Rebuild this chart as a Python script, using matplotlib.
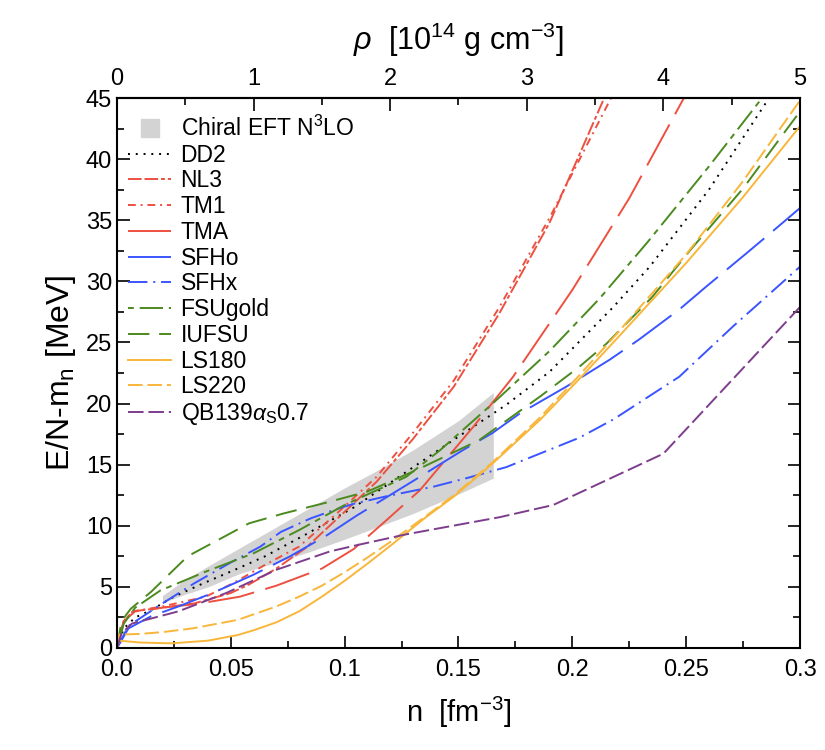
import matplotlib
matplotlib.use('Agg')
from matplotlib import pyplot as plt
from matplotlib.lines import Line2D
from matplotlib.ticker import MultipleLocator, FixedLocator, FixedFormatter

plt.rcParams['font.family'] = ['Liberation Sans', 'DejaVu Sans']
plt.rcParams['mathtext.fontset'] = 'custom'
plt.rcParams['mathtext.rm'] = 'Liberation Sans'
plt.rcParams['mathtext.it'] = 'Liberation Sans:italic'

# chiral EFT band
band_n = [0.02, 0.03, 0.04, 0.054, 0.07, 0.085, 0.1, 0.113, 0.13, 0.15, 0.1653]
band_lo = [3.7, 4.4, 5.0, 6.1, 7.0, 7.9, 8.9, 9.8, 11.0, 12.6, 13.9]
band_hi = [4.3, 5.6, 6.7, 8.2, 9.9, 11.5, 13.1, 14.4, 16.2, 18.6, 20.9]

dd2_n = [0, 0.003, 0.008, 0.015, 0.025, 0.038, 0.053, 0.065, 0.083, 0.104, 0.127, 0.15, 0.171, 0.19, 0.218, 0.234, 0.26, 0.285, 0.292]
dd2_e = [0, 1.6, 2.5, 3.1, 4.2, 5.3, 6.5, 7.5, 9.3, 11.5, 14.4, 17.3, 19.9, 22.6, 27.9, 31.2, 37.5, 44.6, 46.5]

nl3_n = [0, 0.003, 0.007, 0.02, 0.034, 0.05, 0.058, 0.07, 0.083, 0.098, 0.114, 0.13, 0.148, 0.168, 0.19, 0.214, 0.22]
nl3_e = [0, 2.2, 3.0, 3.3, 3.65, 4.5, 5.2, 6.5, 8.2, 10.8, 13.6, 17.1, 21.4, 27.4, 34.8, 45.0, 47.6]

tm1_n = [0, 0.003, 0.007, 0.02, 0.039, 0.051, 0.065, 0.08, 0.0965, 0.114, 0.13, 0.148, 0.168, 0.19, 0.217, 0.222]
tm1_e = [0, 2.2, 3.0, 3.4, 4.2, 5.3, 6.8, 8.3, 11.0, 14.0, 17.6, 21.9, 27.9, 35.2, 45.0, 46.9]

tma_n = [0, 0.003, 0.008, 0.02, 0.035, 0.054, 0.07, 0.09, 0.104, 0.118, 0.133, 0.1565, 0.174, 0.2, 0.225, 0.249, 0.255]
tma_e = [0, 2.2, 3.0, 3.3, 3.6, 4.2, 5.1, 6.5, 8.1, 10.4, 12.9, 18.1, 22.2, 29.3, 36.8, 45.0, 47.2]

sfho_n = [0, 0.005, 0.015, 0.027, 0.042, 0.06, 0.076, 0.092, 0.105, 0.133, 0.152, 0.165, 0.177, 0.1975, 0.2165, 0.229, 0.247, 0.259, 0.2765, 0.288, 0.3]
sfho_e = [0, 1.6, 2.6, 3.4, 4.5, 6.0, 7.5, 9.2, 10.8, 14.0, 16.2, 17.6, 19.2, 21.4, 23.6, 25.2, 27.7, 29.6, 32.3, 34.1, 36.0]

sfhx_n = [0, 0.005, 0.02, 0.034, 0.05, 0.063, 0.072, 0.085, 0.097, 0.104, 0.118, 0.139, 0.1536, 0.171, 0.187, 0.203, 0.218, 0.247, 0.2705, 0.3]
sfhx_e = [0, 1.8, 3.65, 5.3, 7.0, 8.3, 9.5, 10.6, 11.4, 11.8, 12.4, 13.2, 13.9, 14.8, 16.0, 17.2, 18.7, 22.2, 26.3, 31.2]

fsu_n = [0, 0.003, 0.008, 0.019, 0.039, 0.06, 0.08, 0.1, 0.111, 0.127, 0.142, 0.165, 0.19, 0.212, 0.233, 0.26, 0.29]
fsu_e = [0, 2.0, 3.3, 4.7, 6.25, 7.75, 9.65, 11.7, 12.65, 14.0, 16.2, 20.0, 24.3, 28.6, 33.2, 39.4, 46.6]

iufsu_n = [0, 0.002, 0.006, 0.015, 0.031, 0.044, 0.058, 0.073, 0.092, 0.11, 0.132, 0.159, 0.186, 0.203, 0.215, 0.235, 0.252, 0.275, 0.294, 0.3]
iufsu_e = [0, 2.2, 3.2, 4.6, 7.5, 8.8, 10.2, 11.0, 11.9, 12.8, 14.6, 17.0, 20.6, 23.0, 24.9, 28.7, 32.6, 37.6, 42.4, 43.9]

ls180_n = [0, 0.001, 0.01, 0.024, 0.04, 0.053, 0.06, 0.07, 0.08, 0.09, 0.1, 0.11, 0.121, 0.135, 0.148, 0.165, 0.186, 0.203, 0.219, 0.25, 0.275, 0.3]
ls180_e = [0, 0.6, 0.45, 0.38, 0.6, 1.06, 1.45, 2.1, 3.0, 4.2, 5.5, 6.9, 8.5, 10.6, 12.4, 15.1, 18.7, 22.0, 25.2, 31.5, 36.9, 42.7]

ls220_n = [0, 0.001, 0.01, 0.02, 0.033, 0.053, 0.07, 0.08, 0.09, 0.1, 0.11, 0.121, 0.135, 0.148, 0.165, 0.186, 0.203, 0.219, 0.25, 0.275, 0.3]
ls220_e = [0, 1.1, 1.15, 1.3, 1.6, 2.3, 3.4, 4.2, 5.1, 6.2, 7.4, 8.8, 10.7, 12.5, 15.2, 18.9, 22.3, 25.6, 32.2, 38.2, 44.8]

qb_n = [0, 0.002, 0.0066, 0.027, 0.048, 0.07, 0.0935, 0.105, 0.127, 0.168, 0.1916, 0.24, 0.3]
qb_e = [0, 1.2, 2.0, 3.0, 4.5, 6.4, 7.9, 8.4, 9.3, 10.7, 11.7, 15.9, 27.9]

xtick_vals = [0, 0.05, 0.1, 0.15, 0.2, 0.25, 0.3]
xtick_text = ['0.0', '0.05', '0.1', '0.15', '0.2', '0.25', '0.3']
rho_ticks = [0, 1, 2, 3, 4, 5]
rho_minor = [0.5, 1.5, 2.5, 3.5, 4.5]

red = '#ee5040'
blue = '#3a55ff'
green = '#4b8a1e'
orange = '#f8b63a'
purple = '#7d3d8d'

curves = [
    (dd2_n, dd2_e, 'DD2', 'black', (0, (1, 3))),
    (nl3_n, nl3_e, 'NL3', red, (0, (7, 1.5, 7, 1.5, 2, 1.5))),
    (tm1_n, tm1_e, 'TM1', red, (0, (4, 2.5, 1, 2.5))),
    (tma_n, tma_e, 'TMA', red, (0, (24, 6))),
    (sfho_n, sfho_e, 'SFHo', blue, (0, (25, 6))),
    (sfhx_n, sfhx_e, 'SFHx', blue, (0, (10, 3, 1, 3))),
    (fsu_n, fsu_e, 'FSUgold', green, (0, (3, 3, 12, 3))),
    (iufsu_n, iufsu_e, 'IUFSU', green, (0, (11, 5))),
    (ls180_n, ls180_e, 'LS180', orange, '-'),
    (ls220_n, ls220_e, 'LS220', orange, (0, (7.5, 2.5))),
    (qb_n, qb_e, r'QB139$\alpha_{\rm S}$0.7', purple, (0, (8, 2.5))),
]

fig = plt.figure(figsize=(8.25, 7.5), dpi=100)
ax = fig.add_axes([0.1418, 0.136, 0.8279, 0.7333])

ax.fill_between(band_n, band_lo, band_hi, color='#d3d3d3', lw=0, zorder=1)

handles = [Line2D([], [], marker='s', color='#d3d3d3', ls='none', markersize=13.5)]
labels = [r'Chiral EFT N$^3$LO']
for n, e, name, col, ls in curves:
    line, = ax.plot(n, e, color=col, ls=ls, lw=1.4, zorder=2)
    handles.append(line)
    labels.append(name)

ax.set_xlim(0, 0.3)
ax.set_ylim(0, 45)
ax.xaxis.set_major_locator(FixedLocator(xtick_vals))
ax.xaxis.set_major_formatter(FixedFormatter(xtick_text))
ax.xaxis.set_minor_locator(MultipleLocator(0.025))
ax.yaxis.set_major_locator(MultipleLocator(5))
ax.yaxis.set_minor_locator(MultipleLocator(2.5))
ax.tick_params(which='both', direction='in', right=True, labelsize=17, width=1.2)
ax.tick_params(which='major', length=9)
ax.tick_params(which='minor', length=5)
ax.tick_params(axis='x', pad=8)
for sp in ax.spines.values():
    sp.set_linewidth(1.5)

top = ax.secondary_xaxis('top', functions=(lambda x: x / 0.06, lambda r: r * 0.06))
top.xaxis.set_major_locator(FixedLocator(rho_ticks))
top.xaxis.set_minor_locator(FixedLocator(rho_minor))
top.tick_params(which='both', direction='in', labelsize=17, width=1.2)
top.tick_params(which='major', length=9, pad=6)
top.tick_params(which='minor', length=5)
top.spines['top'].set_linewidth(1.5)
top.set_xlabel(r'$\rho$  [10$^{14}$ g cm$^{-3}$]', fontsize=22, labelpad=13)

ax.set_xlabel(r'n  [fm$^{-3}$]', fontsize=21, labelpad=10)
ax.set_ylabel(r'E/N-m$_{\rm n}$ [MeV]', fontsize=23, labelpad=6)

ax.legend(handles, labels, loc='upper left', bbox_to_anchor=(0.016, 0.968),
          frameon=False, fontsize=16.5, handlelength=1.9, handletextpad=0.4,
          labelspacing=0.12, borderpad=0, borderaxespad=0)

fig.savefig('out.png', dpi=100)
